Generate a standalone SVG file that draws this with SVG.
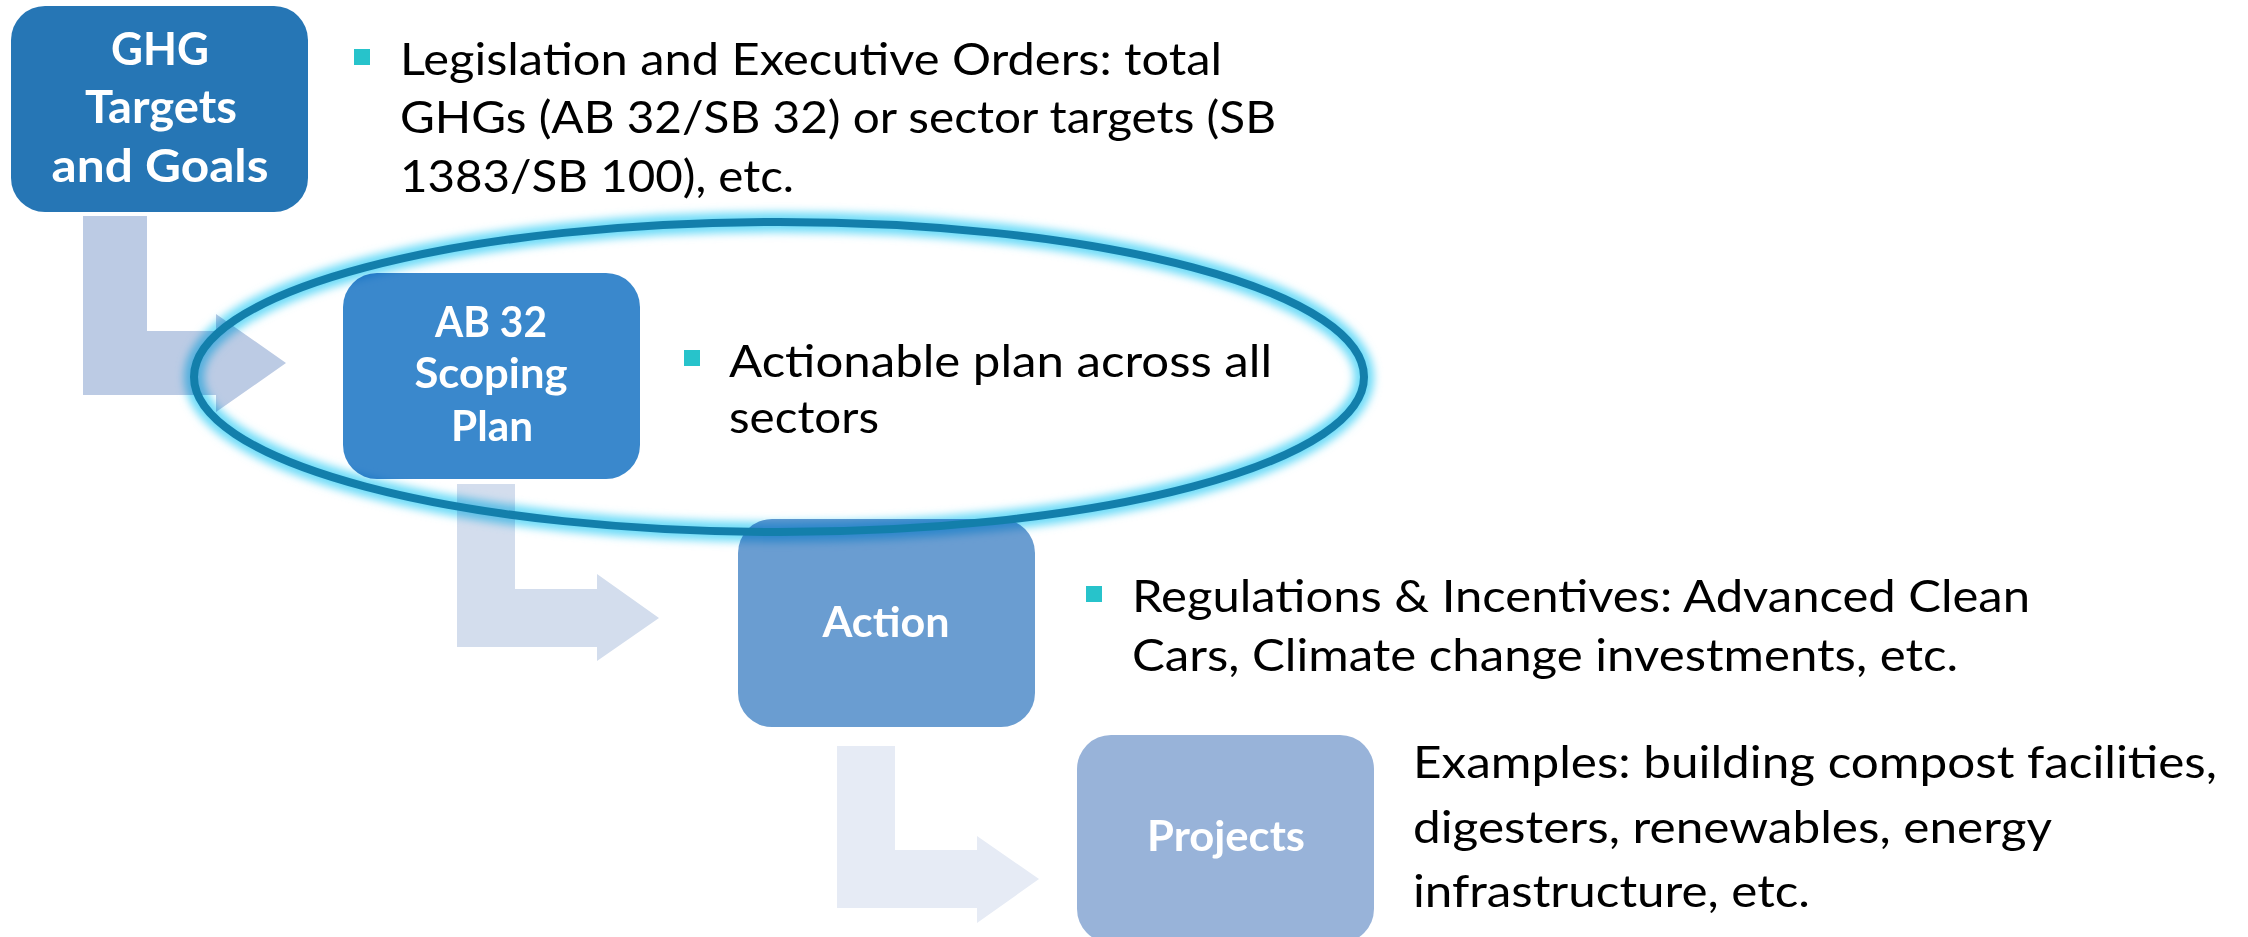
<svg xmlns="http://www.w3.org/2000/svg" width="2248" height="937" viewBox="0 0 2248 937">
  <defs>
    <style>
      .lbl { font-family: Lato, "Open Sans", "Liberation Sans", sans-serif; font-weight: bold; fill: #ffffff; text-anchor: middle; }
      .body { font-family: Lato, "Open Sans", "Liberation Sans", sans-serif; font-size: 44px; fill: #000000; }
      .bullet { fill: #27C3CB; }
    </style>
    <filter id="glow" x="-10%" y="-20%" width="120%" height="140%">
      <feGaussianBlur stdDeviation="4.5"/>
    </filter>
  </defs>
  <rect width="2248" height="937" fill="#ffffff"/>

  <g id="connectors">
    <path d="M83,216 H147 V331 H216 V314 L286,363 L216,412 V395 H83 Z" fill="#BCCBE4"/>
    <path d="M457,484 H515 V589 H597 V574 L659,618 L597,661 V647 H457 Z" fill="#D3DDED"/>
    <path d="M837,746 H895 V850 H977 V836 L1039,879 L977,923 V908 H837 Z" fill="#E6EBF5"/>
  </g>

  <g id="node-ghg">
    <rect x="11" y="6" width="297" height="206" rx="34" fill="#2676B5"/>
    <text class="lbl" font-size="45" x="160" y="65" textLength="98" lengthAdjust="spacingAndGlyphs">GHG</text>
    <text class="lbl" font-size="45" x="161" y="123" textLength="152" lengthAdjust="spacingAndGlyphs">Targets</text>
    <text class="lbl" font-size="45" x="160" y="182" textLength="217" lengthAdjust="spacingAndGlyphs">and Goals</text>
  </g>
  <g id="text-ghg">
    <rect class="bullet" x="354" y="49" width="16" height="16"/>
    <text class="body" x="400" y="75" textLength="822" lengthAdjust="spacingAndGlyphs">Legislation and Executive Orders: total</text>
    <text class="body" x="400" y="133" textLength="876" lengthAdjust="spacingAndGlyphs">GHGs (AB 32/SB 32) or sector targets (SB</text>
    <text class="body" x="400" y="192" textLength="394" lengthAdjust="spacingAndGlyphs">1383/SB 100), etc.</text>
  </g>

  <g id="node-scoping">
    <rect x="343" y="273" width="297" height="206" rx="34" fill="#3A88CC"/>
    <text class="lbl" font-size="42" x="491" y="337" textLength="112" lengthAdjust="spacingAndGlyphs">AB 32</text>
    <text class="lbl" font-size="42" x="491" y="388" textLength="153" lengthAdjust="spacingAndGlyphs">Scoping</text>
    <text class="lbl" font-size="42" x="492" y="441" textLength="82" lengthAdjust="spacingAndGlyphs">Plan</text>
  </g>
  <g id="text-scoping">
    <rect class="bullet" x="684" y="350" width="16" height="16"/>
    <text class="body" x="729" y="377" textLength="543" lengthAdjust="spacingAndGlyphs">Actionable plan across all</text>
    <text class="body" x="729" y="433" textLength="150" lengthAdjust="spacingAndGlyphs">sectors</text>
  </g>

  <g id="node-action">
    <rect x="738" y="519" width="297" height="208" rx="34" fill="#6A9DD1"/>
    <text class="lbl" font-size="42" x="886" y="637" textLength="127" lengthAdjust="spacingAndGlyphs">Action</text>
  </g>
  <g id="text-action">
    <rect class="bullet" x="1086" y="586" width="16" height="16"/>
    <text class="body" x="1132" y="612" textLength="898" lengthAdjust="spacingAndGlyphs">Regulations &amp; Incentives: Advanced Clean</text>
    <text class="body" x="1132" y="671" textLength="826" lengthAdjust="spacingAndGlyphs">Cars, Climate change investments, etc.</text>
  </g>

  <g id="node-projects">
    <rect x="1077" y="735" width="297" height="208" rx="34" fill="#98B3D9"/>
    <text class="lbl" font-size="42" x="1226" y="851" textLength="158" lengthAdjust="spacingAndGlyphs">Projects</text>
  </g>
  <g id="text-projects">
    <text class="body" x="1413" y="778" textLength="804" lengthAdjust="spacingAndGlyphs">Examples: building compost facilities,</text>
    <text class="body" x="1413" y="843" textLength="639" lengthAdjust="spacingAndGlyphs">digesters, renewables, energy</text>
    <text class="body" x="1413" y="907" textLength="397" lengthAdjust="spacingAndGlyphs">infrastructure, etc.</text>
  </g>

  <g id="highlight-ellipse">
    <ellipse cx="779" cy="377" rx="585" ry="155" fill="none" stroke="#6EDCF8" stroke-width="20" filter="url(#glow)" style="mix-blend-mode: multiply"/>
    <ellipse cx="779" cy="377" rx="585" ry="155" fill="none" stroke="#137FAB" stroke-width="8"/>
  </g>
</svg>
